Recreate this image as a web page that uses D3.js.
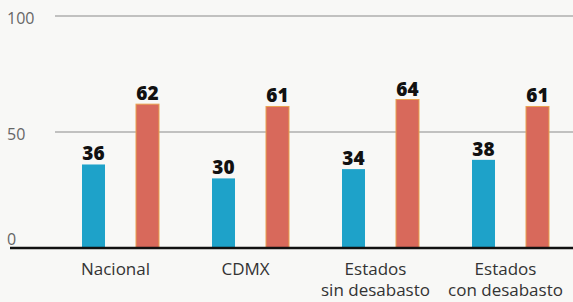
<!DOCTYPE html>
<html><head><meta charset="utf-8">
<script src="https://cdn.jsdelivr.net/npm/d3@7"></script>
<style>html,body{margin:0;padding:0;background:#f8f8f6;}svg{display:block;}</style>
</head><body>
<svg id="c" width="573" height="302"></svg>
<script>
const categories = [["Nacional"], ["CDMX"], ["Estados", "sin desabasto"], ["Estados", "con desabasto"]];
const seriesA = [36, 30, 34, 38];
const seriesB = [62, 61, 64, 61];
const yTicks = [0, 50, 100];

const svg = d3.select("#c");
const W = 573, H = 302;
const y = d3.scaleLinear().domain([0, 100]).range([248, 16]);
const x0 = d3.scaleBand().domain(d3.range(categories.length)).range([55, 575]).paddingInner(0).paddingOuter(0);
const x1 = d3.scaleBand().domain(["a", "b"]).range([27, 104]).paddingInner(0.574);

// gridlines
svg.selectAll("line.grid").data(yTicks.filter(d => d > 0)).join("line")
  .attr("x1", 55).attr("x2", W).attr("y1", d => y(d)).attr("y2", d => y(d))
  .attr("stroke", "#8a8a8a").attr("stroke-width", 1);

// tick labels
svg.selectAll("text.tick").data(yTicks).join("text")
  .attr("x", 7).attr("y", d => d === 0 ? y(d) - 3 : y(d) + 8)
  .attr("font-family", "Open Sans, sans-serif").attr("font-size", 16)
  .attr("fill", "#666").text(d => d);

const groups = svg.selectAll("g.grp").data(categories).join("g")
  .attr("transform", (d, i) => `translate(${x0(i)},0)`);

const colors = {a: "#1ea2c9", b: "#d8695b"};
groups.each(function(d, i) {
  const g = d3.select(this);
  const vals = [["a", seriesA[i]], ["b", seriesB[i]]];
  g.selectAll("rect").data(vals).join("rect")
    .attr("x", v => x1(v[0])).attr("width", x1.bandwidth())
    .attr("y", v => y(v[1])).attr("height", v => y(0) - y(v[1]))
    .attr("fill", v => colors[v[0]])
    .attr("stroke", v => v[0] === "b" ? "#e9a24f" : "none")
    .attr("stroke-width", v => v[0] === "b" ? 1 : 0);
  g.selectAll("text.val").data(vals).join("text")
    .attr("class", "val")
    .attr("x", v => x1(v[0]) + x1.bandwidth() / 2).attr("y", v => y(v[1]) - 4)
    .attr("text-anchor", "middle")
    .attr("font-family", "Open Sans, sans-serif").attr("font-weight", 800).attr("font-size", 19)
    .attr("fill", "#111").text(v => v[1]);
  g.selectAll("text.cat").data(d).join("text")
    .attr("class", "cat")
    .attr("x", (x1("a") + x1("b") + x1.bandwidth()) / 2 - 5)
    .attr("y", (t, j) => 275 + j * 21)
    .attr("text-anchor", "middle")
    .attr("font-family", "Open Sans, sans-serif").attr("font-size", 17)
    .attr("fill", "#333").text(t => t);
});

// baseline
svg.append("line").attr("x1", 10).attr("x2", W).attr("y1", y(0)).attr("y2", y(0))
  .attr("stroke", "#111").attr("stroke-width", 2.5);
</script>
</body></html>
